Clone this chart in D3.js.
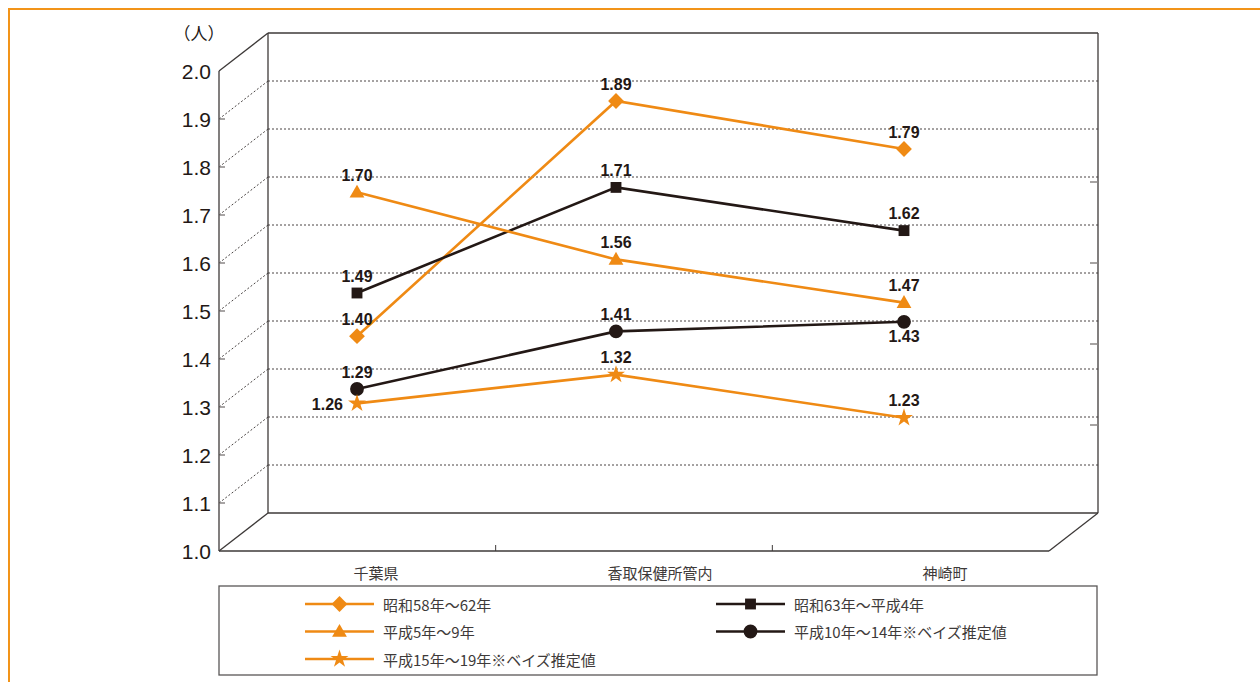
<!DOCTYPE html>
<html>
<head>
<meta charset="utf-8">
<script src="https://cdn.jsdelivr.net/npm/d3@7"></script>
<style>
  body { margin: 0; background: #fff; }
  svg { display: block; }
</style>
</head>
<body>
<div id="chart-area"></div>
<script>
// data
var categories = ["千葉県", "香取保健所管内", "神崎町"];
var seriesNames = [
  "昭和58年～62年",
  "昭和63年～平成4年",
  "平成5年～9年",
  "平成10年～14年※ベイズ推定値",
  "平成15年～19年※ベイズ推定値"
];
var s1 = [1.40, 1.89, 1.79];
var s2 = [1.49, 1.71, 1.62];
var s3 = [1.70, 1.56, 1.47];
var s4 = [1.29, 1.41, 1.43];
var s5 = [1.26, 1.32, 1.23];
var yTicks = [1.0, 1.1, 1.2, 1.3, 1.4, 1.5, 1.6, 1.7, 1.8, 1.9, 2.0];
var unitLabel = "（人）";

var orange = "#ef8a14", dark = "#231815", grid = "#4a4544";

var series = [
  {name: seriesNames[0], values: s1, color: orange, shape: "diamond"},
  {name: seriesNames[1], values: s2, color: dark, shape: "square"},
  {name: seriesNames[2], values: s3, color: orange, shape: "triangle"},
  {name: seriesNames[3], values: s4, color: dark, shape: "circle"},
  {name: seriesNames[4], values: s5, color: orange, shape: "star"}
];

var svg = d3.select("#chart-area").append("svg")
  .attr("width", 1260)
  .attr("height", 682);

// outer frame
svg.append("rect")
  .attr("x", 9).attr("y", 9)
  .attr("width", 1300).attr("height", 700)
  .attr("fill", "none")
  .attr("stroke", "#f29419")
  .attr("stroke-width", 2);

// 3d box geometry
var depthX = 49, depthY = -38;
var y = d3.scaleLinear().domain([1, 2]).range([551, 71]);
var floor = d3.scaleBand().domain(categories).range([219, 1049]);
var x0 = floor.range()[0], x1 = floor.range()[1];

function yMid(v) { return y(v) + depthY * 0.6; }
var xPoint = d3.scaleOrdinal().domain(categories).range([357, 616, 904]);
var xLabel = d3.scaleOrdinal().domain(categories).range([376, 660, 945]);

var inner = yTicks.filter(t => t > 1 && t < 2);

// dotted gridlines: side wall and back wall
svg.selectAll(".side-grid").data(inner).join("line")
  .attr("x1", x0).attr("y1", d => y(d))
  .attr("x2", x0 + depthX).attr("y2", d => y(d) + depthY)
  .attr("stroke", grid).attr("stroke-width", 1).attr("stroke-dasharray", "2,2");

svg.selectAll(".back-grid").data(inner).join("line")
  .attr("x1", x0 + depthX).attr("y1", d => y(d) + depthY)
  .attr("x2", x1 + depthX).attr("y2", d => y(d) + depthY)
  .attr("stroke", grid).attr("stroke-width", 1).attr("stroke-dasharray", "2,2");

// solid frame of the box
var yTop = y(2), yBot = y(1);
var frameLines = [
  [x0, yTop, x0, yBot],
  [x0, yTop, x0 + depthX, yTop + depthY],
  [x0 + depthX, yTop + depthY, x1 + depthX, yTop + depthY],
  [x0 + depthX, yTop + depthY, x0 + depthX, yBot + depthY],
  [x1 + depthX, yTop + depthY, x1 + depthX, yBot + depthY],
  [x0 + depthX, yBot + depthY, x1 + depthX, yBot + depthY],
  [x0, yBot, x0 + depthX, yBot + depthY],
  [x0, yBot, x1, yBot],
  [x1, yBot, x1 + depthX, yBot + depthY]
];
svg.selectAll(".frame").data(frameLines).join("line")
  .attr("x1", d => d[0]).attr("y1", d => d[1])
  .attr("x2", d => d[2]).attr("y2", d => d[3])
  .attr("stroke", "#3e3a39").attr("stroke-width", 1.3);

// front axis ticks
svg.selectAll(".ytick").data(inner).join("line")
  .attr("x1", x0).attr("x2", x0 + 6)
  .attr("y1", d => y(d)).attr("y2", d => y(d))
  .attr("stroke", "#6e6a69").attr("stroke-width", 1.2);

// little ticks on the right of the back wall
var yRight = d3.scaleLinear().domain([0, 5]).range([506, 101]);
svg.selectAll(".rtick").data([1, 2, 3, 4]).join("line")
  .attr("x1", x1 + depthX - 8).attr("x2", x1 + depthX)
  .attr("y1", d => yRight(d)).attr("y2", d => yRight(d))
  .attr("stroke", "#8a8685").attr("stroke-width", 1.5);

// floor ticks between categories
svg.selectAll(".xtick").data(categories.slice(1)).join("line")
  .attr("x1", d => floor(d)).attr("x2", d => floor(d))
  .attr("y1", yBot).attr("y2", yBot - 6)
  .attr("stroke", "#3e3a39").attr("stroke-width", 1);

// y tick labels
svg.selectAll(".ylab").data(yTicks).join("text")
  .attr("x", 211).attr("y", d => y(d))
  .attr("text-anchor", "end")
  .attr("dominant-baseline", "central")
  .attr("font-family", "Liberation Sans, Arial, sans-serif")
  .attr("font-size", 21)
  .attr("fill", dark)
  .text(d => d.toFixed(1));

svg.append("text")
  .attr("x", 199).attr("y", 32)
  .attr("text-anchor", "middle")
  .attr("dominant-baseline", "central")
  .attr("font-family", "Noto Sans CJK JP, sans-serif")
  .attr("font-size", 17)
  .attr("fill", dark)
  .text(unitLabel);

// category labels
svg.selectAll(".xlab").data(categories).join("text")
  .attr("x", d => xLabel(d)).attr("y", 572)
  .attr("text-anchor", "middle")
  .attr("dominant-baseline", "central")
  .attr("font-family", "Noto Sans CJK JP, sans-serif")
  .attr("font-size", 15)
  .attr("fill", "#3e3a39")
  .text(d => d);

// marker helper
var symbols = {
  diamond: d3.symbol().type(d3.symbolSquare).size(125),
  square: d3.symbol().type(d3.symbolSquare).size(118),
  triangle: d3.symbol().type(d3.symbolTriangle).size(95),
  circle: d3.symbol().type(d3.symbolCircle).size(150),
  star: d3.symbol().type(d3.symbolStar).size(100)
};
function drawMarker(g, shape, color, cx, cy) {
  var rot = shape === "diamond" ? " rotate(45)" : "";
  var dy = shape === "triangle" ? 1 : 0;
  g.append("path")
    .attr("d", symbols[shape]())
    .attr("transform", "translate(" + cx + "," + (cy + dy) + ")" + rot)
    .attr("fill", color);
}

// lines
var line = d3.line()
  .x((d, i) => xPoint(categories[i]))
  .y(d => yMid(d));

series.forEach(s => {
  svg.append("path")
    .attr("d", line(s.values))
    .attr("fill", "none")
    .attr("stroke", s.color)
    .attr("stroke-width", 2.6);
});

series.forEach(s => {
  var g = svg.append("g");
  s.values.forEach((v, i) => {
    drawMarker(g, s.shape, s.color, xPoint(categories[i]), yMid(v));
  });
});

// value labels (default above the marker)
var labelSide = {"4-0": "left", "3-2": "below"};
series.forEach((s, si) => {
  s.values.forEach((v, i) => {
    var side = labelSide[si + "-" + i] || "above";
    var lx = xPoint(categories[i]), ly = yMid(v) - 17;
    var anchor = "middle";
    if (side === "left") { lx = lx - 14; ly = yMid(v) + 1; anchor = "end"; }
    if (side === "below") { ly = yMid(v) + 15; }
    svg.append("text")
      .attr("x", lx).attr("y", ly)
      .attr("text-anchor", anchor)
      .attr("dominant-baseline", "central")
      .attr("font-family", "Liberation Sans, Arial, sans-serif")
      .attr("font-weight", "bold")
      .attr("font-size", 16)
      .attr("fill", dark)
      .text(v.toFixed(2));
  });
});

// legend
svg.append("rect")
  .attr("x", 219).attr("y", 586)
  .attr("width", 878).attr("height", 89)
  .attr("fill", "none")
  .attr("stroke", "#595757")
  .attr("stroke-width", 1.3);

var legendCol = d3.scaleOrdinal().domain([0, 1]).range([305, 716]);
var legendRow = d3.scalePoint().domain([0, 1, 2]).range([604, 659]);

series.forEach((s, i) => {
  var col = i % 2, row = Math.floor(i / 2);
  var lx = legendCol(col), ly = legendRow(row);
  var g = svg.append("g");
  g.append("line")
    .attr("x1", lx).attr("x2", lx + 69)
    .attr("y1", ly).attr("y2", ly)
    .attr("stroke", s.color).attr("stroke-width", 2.6);
  drawMarker(g, s.shape, s.color, lx + 34.5, ly);
  g.append("text")
    .attr("x", lx + 78).attr("y", ly)
    .attr("dominant-baseline", "central")
    .attr("font-family", "Noto Sans CJK JP, sans-serif")
    .attr("font-size", 15)
    .attr("fill", "#3e3a39")
    .text(s.name);
});
</script>
</body>
</html>
